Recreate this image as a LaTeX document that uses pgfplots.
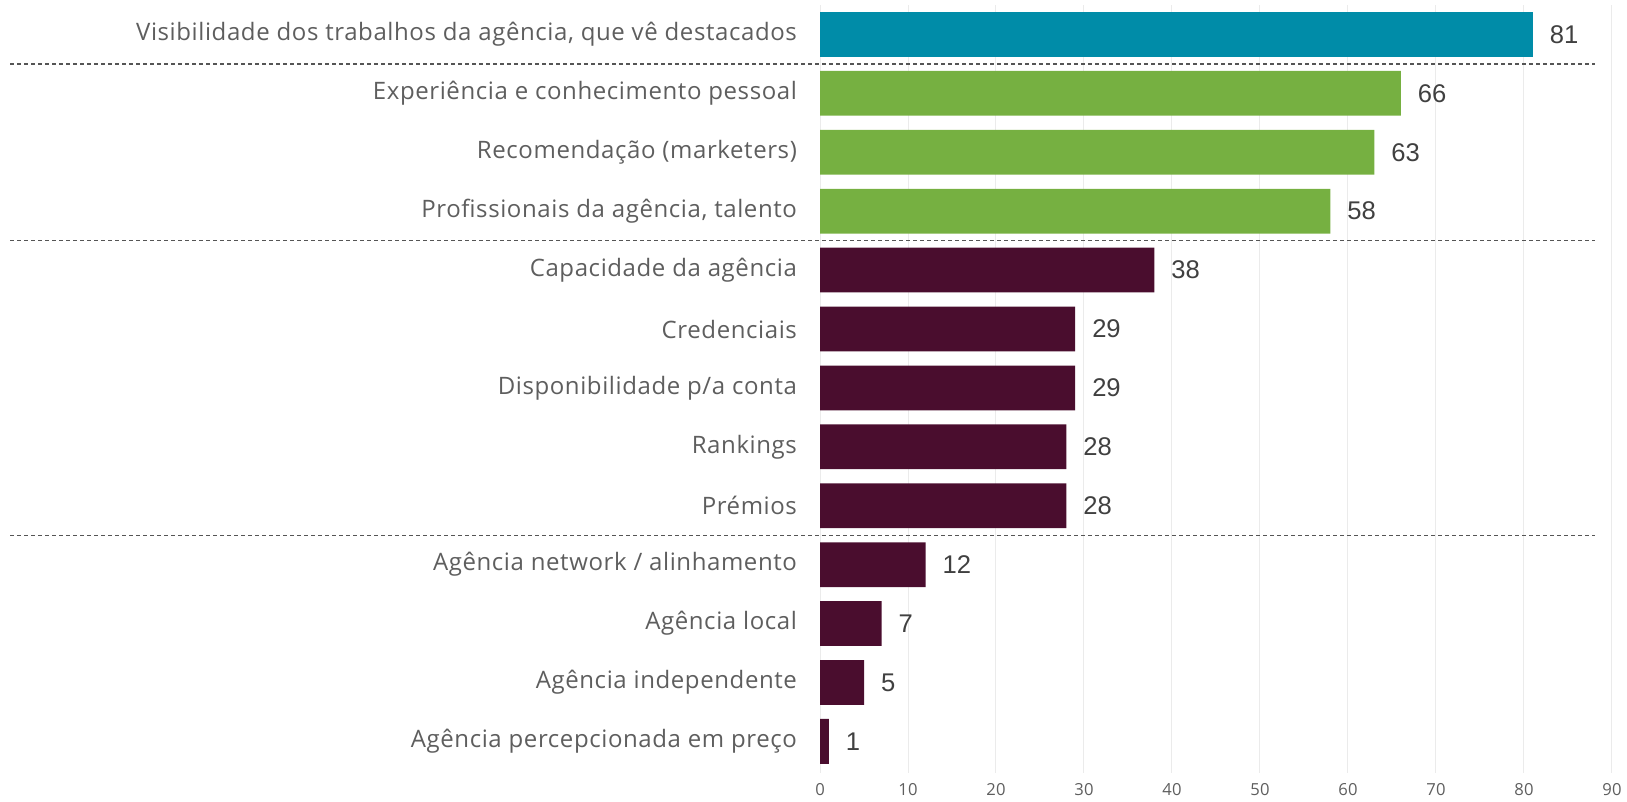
\documentclass[border=0pt]{standalone}
\usepackage{fontspec}
\setmainfont{Open Sans}
\newfontfamily\labfont[LetterSpace=2.5]{Open Sans}
\newfontfamily\valfont{Liberation Sans}
\usepackage{pgfplots}
\pgfplotsset{compat=1.18}

\definecolor{tealbar}{HTML}{008CA8}
\definecolor{greenbar}{HTML}{76B041}
\definecolor{maroonbar}{HTML}{4A0D2E}
\definecolor{labelgray}{HTML}{5E5E5E}
\definecolor{valgray}{HTML}{404040}
\definecolor{gridgray}{HTML}{EBEBEB}
\definecolor{dashgray}{HTML}{555555}

\begin{document}
\begin{tikzpicture}
% picture size: 1627 x 802 px at 0.5pt per px
\useasboundingbox (0,0) rectangle (813.5pt,401pt);
\begin{axis}[
  at={(410pt,14.7pt)}, anchor=south west,
  scale only axis,
  width=396pt, height=383.8pt,
  xmin=0, xmax=90,
  ymin=-0.5, ymax=12.53,
  y dir=reverse,
  xtick={0,10,...,90},
  ytick={0,...,12},
  yticklabels={
    {Visibilidade dos trabalhos da agência, que vê destacados},
    {Experiência e conhecimento pessoal},
    {Recomendação (marketers)},
    {Profissionais da agência, talento},
    {Capacidade da agência},
    {Credenciais},
    {Disponibilidade p/a conta},
    {Rankings},
    {Prémios},
    {Agência network / alinhamento},
    {Agência local},
    {Agência independente},
    {Agência percepcionada em preço}},
  axis line style={draw=none},
  major tick length=0pt,
  xmajorgrids,
  grid style={gridgray, line width=0.5pt},
  /pgf/number format/assume math mode=true,
  xticklabel style={font=\labfont\fontsize{8.3}{10}\selectfont, text=labelgray, inner sep=1pt, yshift=-4.2pt},
  yticklabel style={font=\labfont\fontsize{12}{14}\selectfont, text=labelgray, xshift=-8pt},
  xbar, bar shift=0pt, bar width=0.76,
  nodes near coords,
  every node near coord/.append style={font=\valfont\fontsize{12.8}{15}\selectfont, text=valgray, anchor=west, xshift=5pt},
  clip=false,
]
\addplot[fill=tealbar, draw=none] coordinates {(81,0)};
\addplot[fill=greenbar, draw=none] coordinates {(66,1) (63,2) (58,3)};
\addplot[fill=maroonbar, draw=none] coordinates {
  (38,4) (29,5) (29,6) (28,7) (28,8) (12,9) (7,10) (5,11) (1,12)};

% group separators
\draw[dashgray, line width=0.6pt, dash pattern=on 2pt off 1.5pt]
  (axis cs:-92,0.5) -- (axis cs:88.1,0.5)
  (axis cs:-92,3.5) -- (axis cs:88.1,3.5)
  (axis cs:-92,8.5) -- (axis cs:88.1,8.5);
\end{axis}
\end{tikzpicture}
\end{document}
